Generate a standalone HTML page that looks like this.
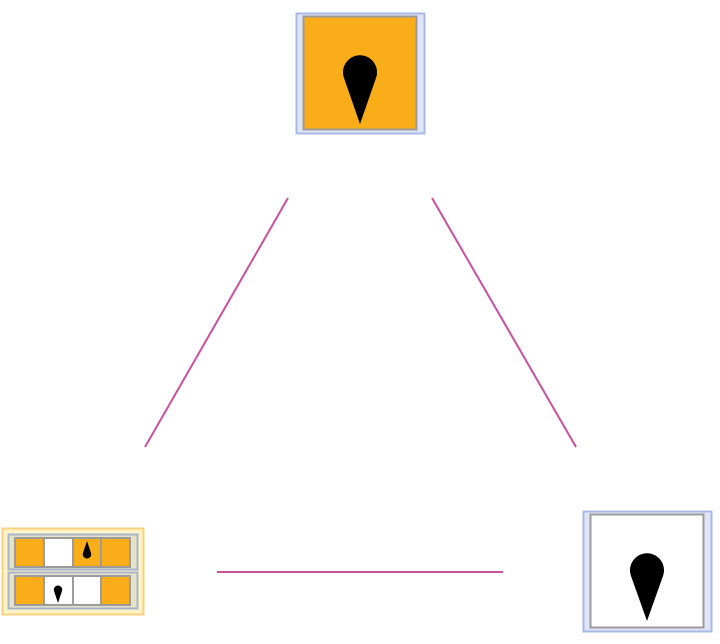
<!DOCTYPE html>
<html><head><meta charset="utf-8"><style>html,body{margin:0;padding:0;background:#fff;}svg{display:block}</style></head>
<body>
<svg width="720" height="644" viewBox="0 0 720 644" xmlns="http://www.w3.org/2000/svg">
<!-- connectors -->
<g stroke="#c9509f" stroke-width="2" fill="none">
<line x1="288" y1="198" x2="145" y2="447"/>
<line x1="432" y1="198" x2="576" y2="447"/>
<line x1="217" y1="572" x2="503" y2="572"/>
</g>
<!-- top node -->
<rect x="296.5" y="13.5" width="128" height="120" fill="#dfe5f7" stroke="#a9b9e6" stroke-width="2"/>
<rect x="303.5" y="16.5" width="113" height="113" fill="#f9ae19" stroke="#9b9b9b" stroke-width="2"/>
<path d="M360 124 L344 78 A17 17 0 1 1 376 78 Z" fill="#000"/>
<!-- right node -->
<rect x="583.5" y="511.5" width="128" height="120" fill="#dfe5f7" stroke="#a9b9e6" stroke-width="2"/>
<rect x="590.5" y="514.5" width="113" height="113" fill="#fff" stroke="#9b9b9b" stroke-width="2"/>
<path d="M647 621 L631 576 A17 17 0 1 1 663 576 Z" fill="#000"/>
<!-- left node -->
<rect x="2.5" y="528.5" width="141" height="86" fill="#fdf3c6" stroke="#f8d17e" stroke-width="2"/>
<rect x="8.5" y="534.5" width="129" height="35" fill="#e6e3c8" stroke="#a6b5cc" stroke-width="2"/>
<rect x="8.5" y="572.5" width="129" height="36" fill="#e6e3c8" stroke="#a6b5cc" stroke-width="2"/>
<g stroke="#9b9b9b" stroke-width="2">
<rect x="15" y="538" width="29" height="29" fill="#f9ae19"/>
<rect x="44" y="538" width="29" height="29" fill="#fff"/>
<rect x="73" y="538" width="28" height="29" fill="#f9ae19"/>
<rect x="101" y="538" width="29" height="29" fill="#f9ae19"/>
<rect x="15" y="576" width="29" height="29" fill="#f9ae19"/>
<rect x="44" y="576" width="29" height="29" fill="#fff"/>
<rect x="73" y="576" width="28" height="29" fill="#fff"/>
<rect x="101" y="576" width="29" height="29" fill="#f9ae19"/>
</g>
<path d="M87 541 L83 553 A4.2 4.2 0 1 0 91 553 Z" fill="#000"/>
<path d="M58 603 L54 591 A4.2 4.2 0 1 1 62 591 Z" fill="#000"/>
</svg>
</body></html>
